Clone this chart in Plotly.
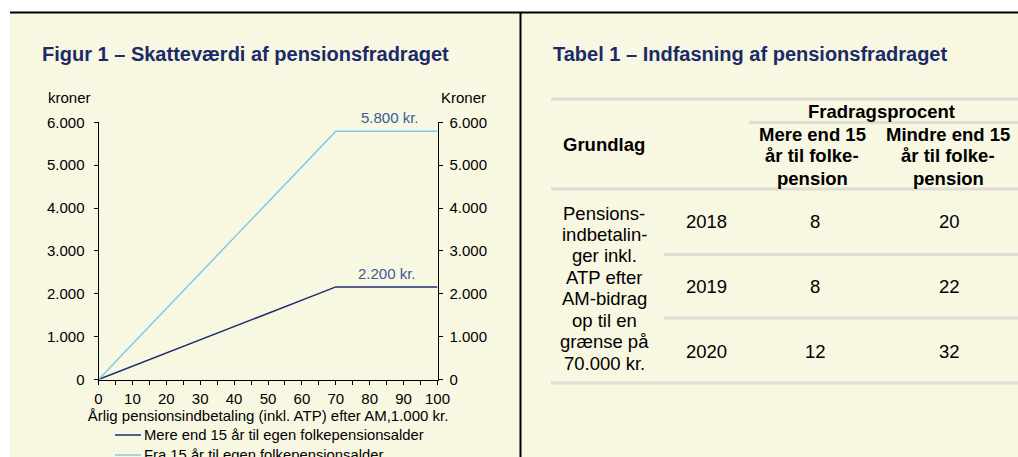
import plotly.graph_objects as go

W, H = 1018, 457

# ---------------- data ----------------
x_points = [0, 70, 100]                 # 1.000 kr.
mere_end_15 = [0, 2160, 2160]           # kroner
fra_15 = [0, 5790, 5790]                # kroner
series_names = ["Mere end 15 år til egen folkepensionsalder",
                "Fra 15 år til egen folkepensionsalder"]
end_labels = ["2.200 kr.", "5.800 kr."]

x_ticks = list(range(0, 101, 10))
y_ticks = list(range(0, 6001, 1000))

tbl_years = ["2018", "2019", "2020"]
tbl_mere = [8, 8, 12]
tbl_mindre = [20, 22, 32]
tbl_grundlag_lines = ["Pensions-", "indbetalin-", "ger inkl.", "ATP efter",
                      "AM-bidrag", "op til en", "grænse på", "70.000 kr."]
tbl_head_mere = ["Mere end 15", "år til folke-", "pension"]
tbl_head_mindre = ["Mindre end 15", "år til folke-", "pension"]

# ---------------- style ----------------
FONT = "Arial, Liberation Sans, sans-serif"
NAVY = "#1B2A68"
DARK = "#1F2C6E"
LIGHT = "#7FCBE6"
LBL = "#3A5B98"
CREAM = "#F8F7E2"
GREY = "#DEDCD3"


def px(x):
    return x / W


def py(y):
    return 1 - y / H


fig = go.Figure()
fig.add_trace(go.Scatter(x=x_points, y=mere_end_15, mode="lines", name=series_names[0],
                         line=dict(color=DARK, width=1.5), xaxis="x", yaxis="y",
                         showlegend=False))
fig.add_trace(go.Scatter(x=x_points, y=fra_15, mode="lines", name=series_names[1],
                         line=dict(color=LIGHT, width=1.5), xaxis="x", yaxis="y2",
                         showlegend=False))

shapes = []
annotations = []

# background panel and frame lines
shapes.append(dict(type="rect", xref="paper", yref="paper", x0=px(10), x1=1, y0=0, y1=py(12.5),
                   fillcolor=CREAM, line=dict(width=0), layer="below"))
shapes.append(dict(type="line", xref="paper", yref="paper", x0=px(10), x1=1, y0=py(12.5), y1=py(12.5),
                   line=dict(color="black", width=2), layer="above"))
shapes.append(dict(type="line", xref="paper", yref="paper", x0=px(520.5), x1=px(520.5), y0=0, y1=py(12.5),
                   line=dict(color="black", width=2), layer="above"))

# titles
annotations.append(dict(text="<b>Figur 1 – Skatteværdi af pensionsfradraget</b>", xref="paper", yref="paper",
                        x=px(40), y=py(54.5), xanchor="left", yanchor="middle", showarrow=False,
                        font=dict(family=FONT, size=20, color=NAVY)))
annotations.append(dict(text="<b>Tabel 1 – Indfasning af pensionsfradraget</b>", xref="paper", yref="paper",
                        x=px(551), y=py(54.5), xanchor="left", yanchor="middle", showarrow=False,
                        font=dict(family=FONT, size=20, color=NAVY)))

# axis unit labels
annotations.append(dict(text="kroner", xref="paper", yref="paper", x=px(46), y=py(97),
                        xanchor="left", yanchor="middle", showarrow=False,
                        font=dict(family=FONT, size=15, color="black")))
annotations.append(dict(text="Kroner", xref="paper", yref="paper", x=px(488), y=py(97),
                        xanchor="right", yanchor="middle", showarrow=False,
                        font=dict(family=FONT, size=15, color="black")))

# end labels
annotations.append(dict(text=end_labels[0], xref="x", yref="y", x=85, y=mere_end_15[-1],
                        xanchor="center", yanchor="bottom", yshift=3, showarrow=False,
                        font=dict(family=FONT, size=15, color=LBL)))
annotations.append(dict(text=end_labels[1], xref="x", yref="y", x=86, y=fra_15[-1],
                        xanchor="center", yanchor="bottom", yshift=3, showarrow=False,
                        font=dict(family=FONT, size=15, color=LBL)))

# manual legend
for i, (nm, col) in enumerate(zip(series_names, [DARK, LIGHT])):
    yy = 435 + 20 * i
    shapes.append(dict(type="line", xref="paper", yref="paper", x0=px(115), x1=px(141),
                       y0=py(yy), y1=py(yy), line=dict(color=col, width=1.5)))
    annotations.append(dict(text=nm, xref="paper", yref="paper", x=px(142), y=py(yy),
                            xanchor="left", yanchor="middle", showarrow=False,
                            font=dict(family=FONT, size=14.8, color="black")))

# ---------------- table ----------------
for (x0, y) in [(551, 99), (749, 122.5), (551, 189), (664, 254.5), (664, 318), (551, 383)]:
    shapes.append(dict(type="line", xref="paper", yref="paper", x0=px(x0), x1=1, y0=py(y), y1=py(y),
                       line=dict(color=GREY, width=3), layer="above"))


def txt(s, x, y, bold=False, size=18.5):
    annotations.append(dict(text=f"<b>{s}</b>" if bold else s, xref="paper", yref="paper",
                            x=px(x), y=py(y), xanchor="center", yanchor="middle", showarrow=False,
                            font=dict(family=FONT, size=size, color="black")))


txt("Fradragsprocent", 881, 111, bold=True)
txt("Grundlag", 604, 144, bold=True)
for i, s in enumerate(tbl_head_mere):
    txt(s, 812, 134 + 22 * i, bold=True)
for i, s in enumerate(tbl_head_mindre):
    txt(s, 948, 134 + 22 * i, bold=True)
for i, s in enumerate(tbl_grundlag_lines):
    txt(s, 604, 213 + 21.45 * i)
for i in range(3):
    yy = 221 + 65 * i
    txt(tbl_years[i], 706, yy)
    txt(str(tbl_mere[i]), 815, yy)
    txt(str(tbl_mindre[i]), 949, yy)

tickfont = dict(family=FONT, size=15, color="black")
ydom = [py(379.5), py(122.3)]

fig.update_layout(
    width=W, height=H,
    margin=dict(l=0, r=0, t=0, b=0, autoexpand=False),
    paper_bgcolor="white",
    plot_bgcolor="rgba(0,0,0,0)",
    separators=",.",
    showlegend=False,
    shapes=shapes,
    annotations=annotations,
    xaxis=dict(domain=[px(98.5), px(437.5)], range=[0, 100], tickvals=x_ticks,
               ticks="outside", ticklen=4, tickcolor="black", tickwidth=1,
               minor=dict(dtick=5, ticks="outside", ticklen=4, tickcolor="black", tickwidth=1),
               showline=True, linecolor="black", linewidth=1, showgrid=False, zeroline=False,
               tickfont=tickfont, anchor="y", automargin=False, ticklabelstandoff=1,
               title=dict(text="Årlig pensionsindbetaling (inkl. ATP) efter AM,1.000 kr.",
                          font=tickfont, standoff=2)),
    yaxis=dict(domain=ydom, range=[0, 6000], tickvals=y_ticks, tickformat=",d",
               ticks="outside", ticklen=4, tickcolor="black", tickwidth=1,
               showline=True, linecolor="black", linewidth=1, showgrid=False, zeroline=False,
               tickfont=tickfont, anchor="x", automargin=False, ticklabelstandoff=6),
    yaxis2=dict(range=[0, 6000], tickvals=y_ticks, tickformat=",d", overlaying="y", side="right",
                ticks="outside", ticklen=4, tickcolor="black", tickwidth=1,
                showline=True, linecolor="black", linewidth=1, showgrid=False, zeroline=False,
                tickfont=tickfont, anchor="x", automargin=False, ticklabelstandoff=4),
)

fig.write_html("out.html")
